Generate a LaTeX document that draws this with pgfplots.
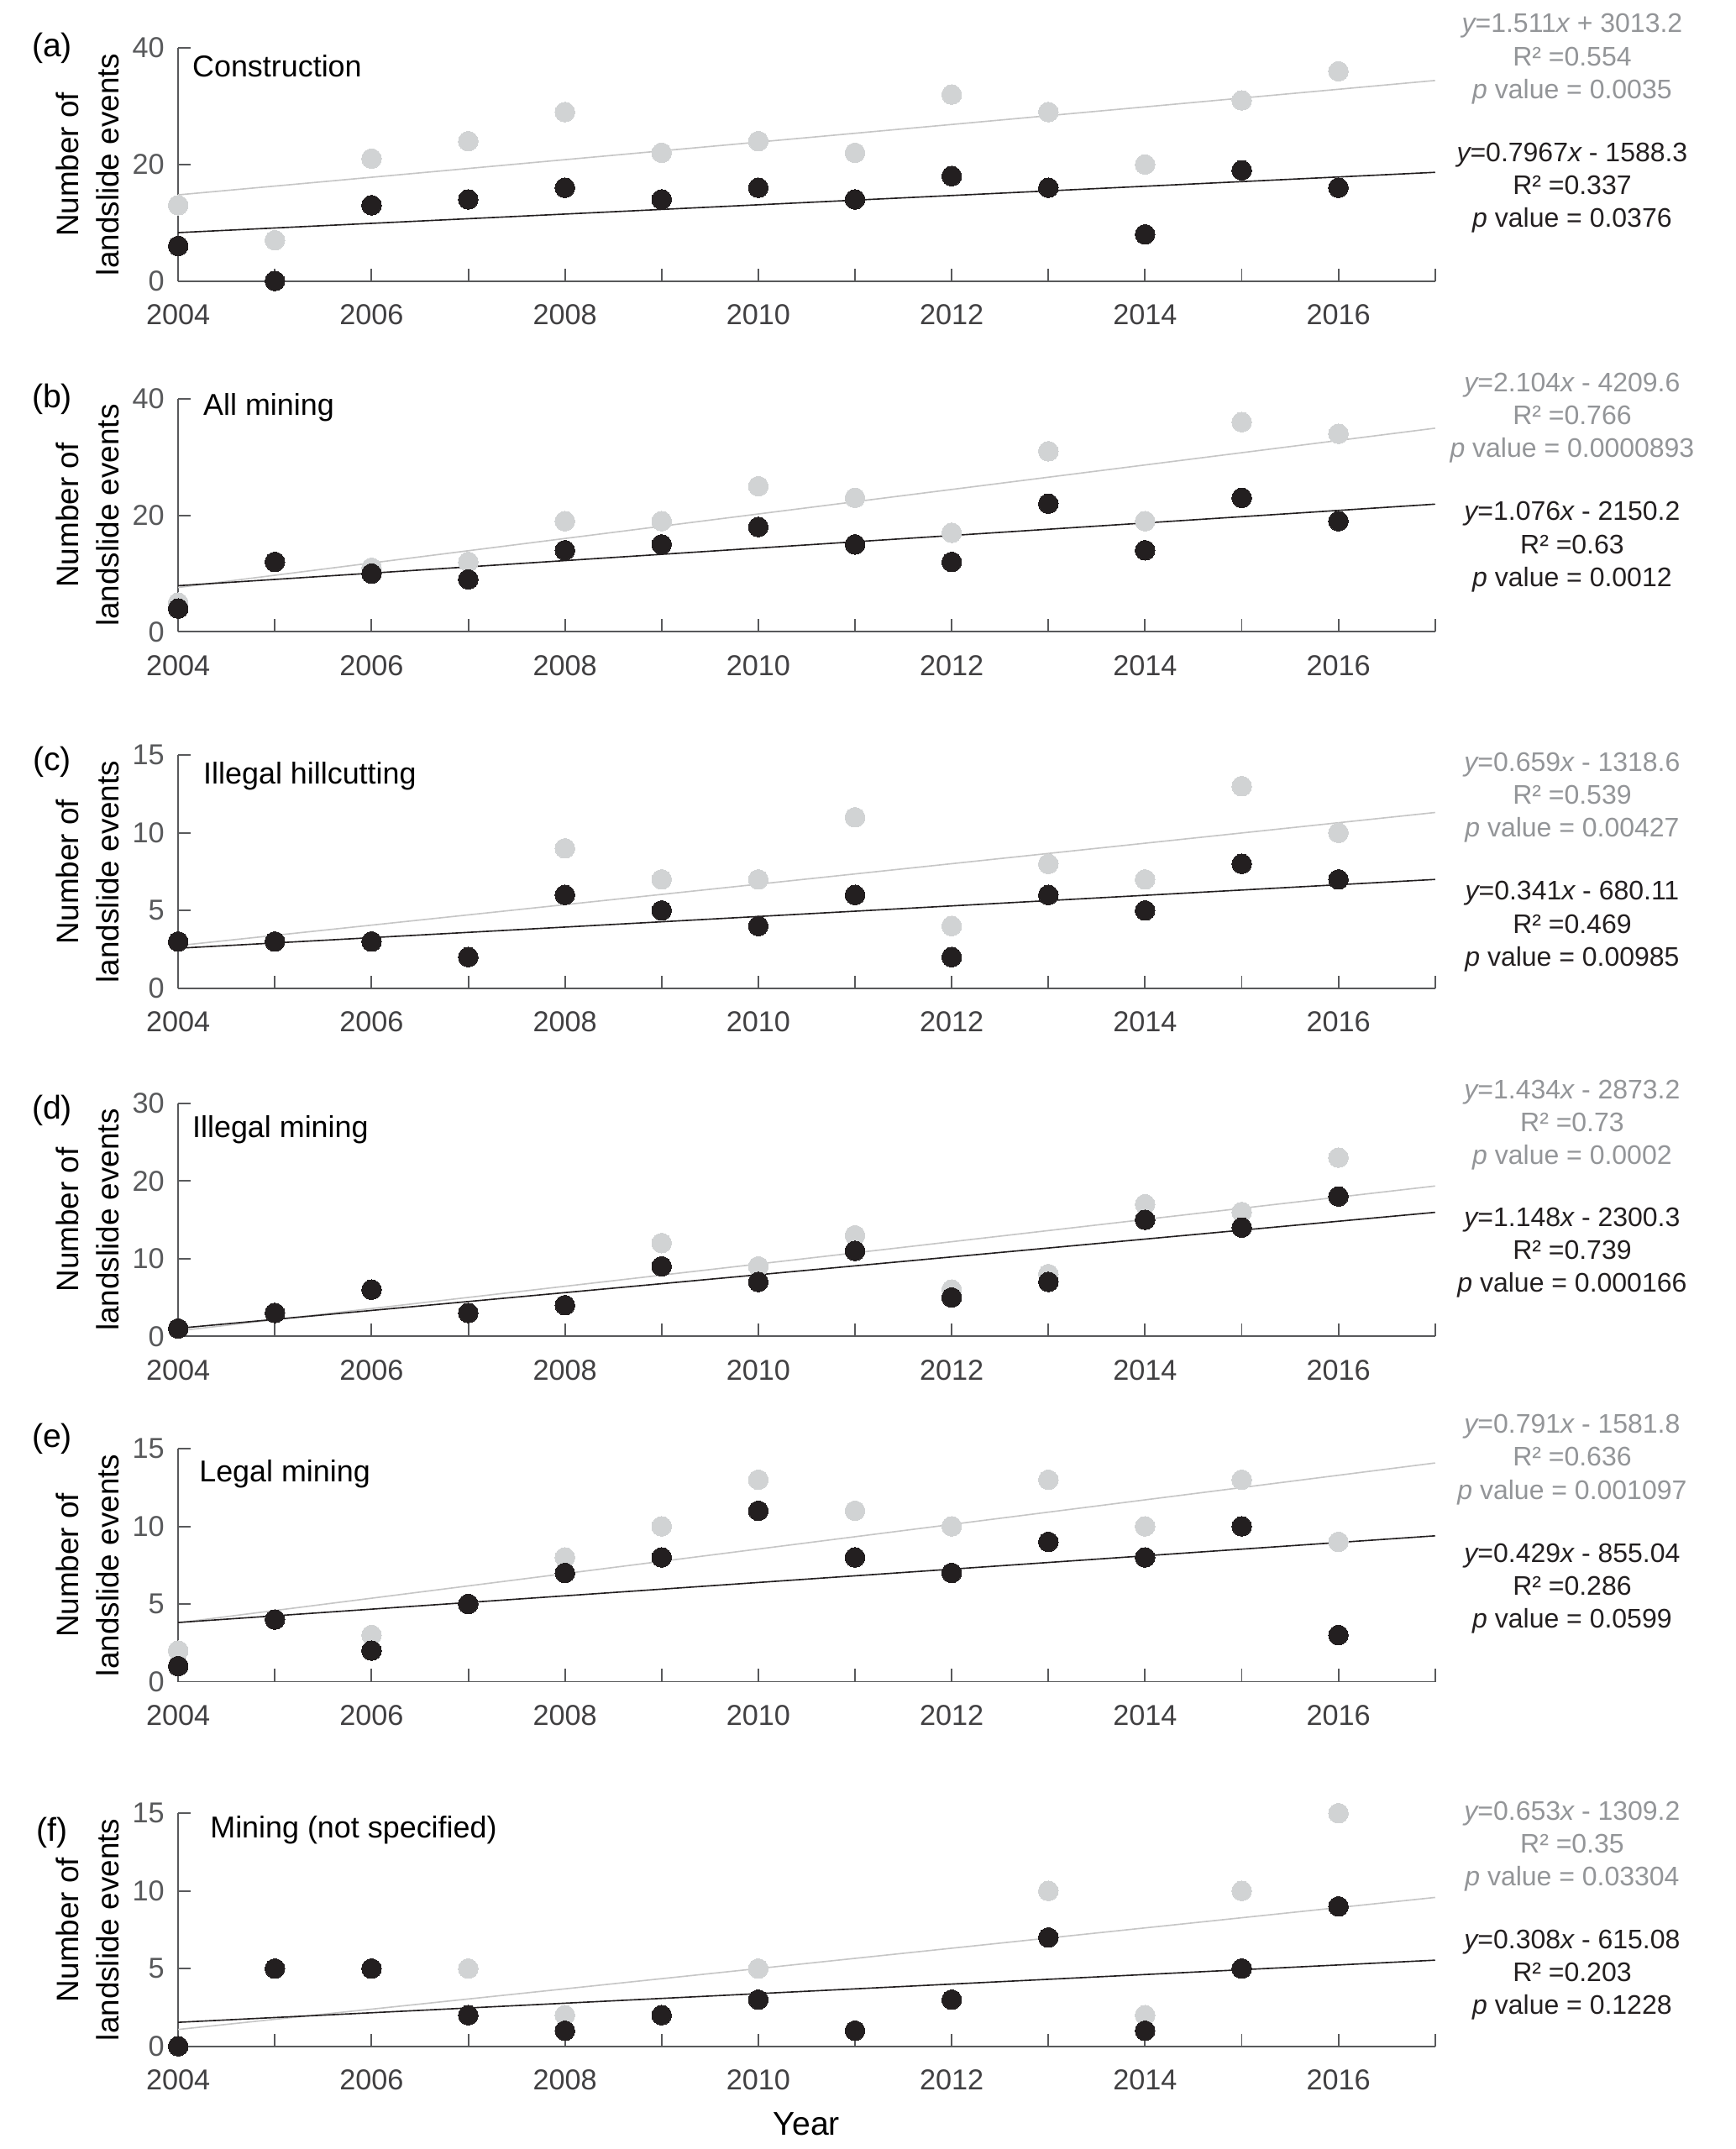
\documentclass[border=0pt]{standalone}
\usepackage{fontspec}
\setmainfont{Liberation Sans}
\usepackage{pgfplots}
\pgfplotsset{compat=1.18}
\usepackage{pgfplotstable}

\definecolor{ptgrey}{HTML}{D1D3D4}
\definecolor{lngrey}{HTML}{C6C6C6}
\definecolor{ptblack}{HTML}{231F20}
\definecolor{axgrey}{HTML}{58595B}
\definecolor{txgrey}{HTML}{939598}
\definecolor{tkgrey}{HTML}{414042}

% year, grey series, black series
\pgfplotstableread{
year grey black
2004 13 6
2005 7 0
2006 21 13
2007 24 14
2008 29 16
2009 22 14
2010 24 16
2011 22 14
2012 32 18
2013 29 16
2014 20 8
2015 31 19
2016 36 16
}\tA
\pgfplotstableread{
year grey black
2004 5 4
2005 12 12
2006 11 10
2007 12 9
2008 19 14
2009 19 15
2010 25 18
2011 23 15
2012 17 12
2013 31 22
2014 19 14
2015 36 23
2016 34 19
}\tB
\pgfplotstableread{
year grey black
2004 3 3
2005 3 3
2006 3 3
2007 2 2
2008 9 6
2009 7 5
2010 7 4
2011 11 6
2012 4 2
2013 8 6
2014 7 5
2015 13 8
2016 10 7
}\tC
\pgfplotstableread{
year grey black
2004 1 1
2005 3 3
2006 6 6
2007 3 3
2008 4 4
2009 12 9
2010 9 7
2011 13 11
2012 6 5
2013 8 7
2014 17 15
2015 16 14
2016 23 18
}\tD
\pgfplotstableread{
year grey black
2004 2 1
2005 4 4
2006 3 2
2007 5 5
2008 8 7
2009 10 8
2010 13 11
2011 11 8
2012 10 7
2013 13 9
2014 10 8
2015 13 10
2016 9 3
}\tE
\pgfplotstableread{
year grey black
2004 0 0
2005 5 5
2006 5 5
2007 5 2
2008 2 1
2009 2 2
2010 5 3
2011 1 1
2012 3 3
2013 10 7
2014 2 1
2015 10 5
2016 15 9
}\tF

\tikzset{
  ann/.style={align=center, anchor=center, inner sep=0pt, font=\fontsize{9.8}{12}\selectfont},
  letter/.style={anchor=center, inner sep=0pt, font=\fontsize{12}{14}\selectfont},
  inset/.style={anchor=base west, inner sep=0pt, font=\fontsize{11}{13}\selectfont},
}
\pgfplotsset{
  panel/.style={
    scale only axis, width=458.5pt, height=85pt, anchor=south west,
    xmin=2004, xmax=2017, ymin=0,
    axis lines=left, axis line style={-, axgrey, line width=0.6pt},
    tick align=inside, major tick length=4.6pt, minor tick length=4.6pt,
    tick style={axgrey, line width=0.6pt},
    xtick={2004,2006,...,2016}, minor xtick={2005,2007,...,2017},
    /pgf/number format/1000 sep={}, /pgf/number format/assume math mode=true,
    xticklabel style={font=\fontsize{10.5}{12}\selectfont, text=tkgrey, yshift=-5pt},
    yticklabel style={font=\fontsize{10.5}{12}\selectfont, text=axgrey, xshift=-1.5pt},
    ylabel={Number of\\landslide events},
    every axis y label/.style={at={(axis description cs:-0.072,0.5)}, rotate=90,
      anchor=center, align=center, font=\fontsize{11.3}{14.5}\selectfont},
    clip=false,
  },
  trendgrey/.style={lngrey, line width=0.5pt, no markers},
  trendblack/.style={ptblack, line width=0.5pt, no markers},
  ptsgrey/.style={only marks, color=ptgrey, mark=*, mark size=3.6pt,
    mark options={draw=ptgrey, fill=ptgrey, line width=0pt}},
  ptsblack/.style={only marks, color=ptblack, mark=*, mark size=3.6pt,
    mark options={draw=ptblack, fill=ptblack, line width=0pt}},
}

\begin{document}
\begin{tikzpicture}
\useasboundingbox (0pt,0pt) rectangle (633pt,-784pt);

% (a)
\begin{axis}[panel, at={(65pt,-102.5pt)}, ymax=40, ytick={0,20,40}]
\addplot[trendgrey] coordinates {(2004,14.78) (2017,34.42)};
\addplot[trendblack] coordinates {(2004,8.30) (2017,18.65)};
\addplot[ptsgrey] table[x=year, y=grey] {\tA};
\addplot[ptsblack] table[x=year, y=black] {\tA};
\node[inset, xshift=5pt, yshift=-10.5pt] at (rel axis cs:0,1) {Construction};
\end{axis}

% (b)
\begin{axis}[panel, at={(65pt,-230.5pt)}, ymax=40, ytick={0,20,40}]
\addplot[trendgrey] coordinates {(2004,7.61) (2017,34.96)};
\addplot[trendblack] coordinates {(2004,7.92) (2017,21.92)};
\addplot[ptsgrey] table[x=year, y=grey] {\tB};
\addplot[ptsblack] table[x=year, y=black] {\tB};
\node[inset, xshift=9pt, yshift=-6pt] at (rel axis cs:0,1) {All mining};
\end{axis}

% (c)
\begin{axis}[panel, at={(65pt,-360.5pt)}, ymax=15, ytick={0,5,10,15}]
\addplot[trendgrey] coordinates {(2004,2.74) (2017,11.31)};
\addplot[trendblack] coordinates {(2004,2.57) (2017,7.00)};
\addplot[ptsgrey] table[x=year, y=grey] {\tC};
\addplot[ptsblack] table[x=year, y=black] {\tC};
\node[inset, xshift=9pt, yshift=-10.5pt] at (rel axis cs:0,1) {Illegal hillcutting};
\end{axis}

% (d)
\begin{axis}[panel, at={(65pt,-487.5pt)}, ymax=30, ytick={0,10,20,30}]
\addplot[trendgrey] coordinates {(2004,0.70) (2017,19.35)};
\addplot[trendblack] coordinates {(2004,1.03) (2017,15.96)};
\addplot[ptsgrey] table[x=year, y=grey] {\tD};
\addplot[ptsblack] table[x=year, y=black] {\tD};
\node[inset, xshift=5pt, yshift=-12.5pt] at (rel axis cs:0,1) {Illegal mining};
\end{axis}

% (e)
\begin{axis}[panel, at={(65pt,-613.5pt)}, ymax=15, ytick={0,5,10,15}]
\addplot[trendgrey] coordinates {(2004,3.79) (2017,14.08)};
\addplot[trendblack] coordinates {(2004,3.81) (2017,9.39)};
\addplot[ptsgrey] table[x=year, y=grey] {\tE};
\addplot[ptsblack] table[x=year, y=black] {\tE};
\node[inset, xshift=7.5pt, yshift=-12pt] at (rel axis cs:0,1) {Legal mining};
\end{axis}

% (f)
\begin{axis}[panel, at={(65pt,-746.5pt)}, ymax=15, ytick={0,5,10,15},
  xlabel={Year},
  every axis x label/.style={at={(axis description cs:0.5,0)}, anchor=center,
    yshift=-28.5pt, font=\fontsize{12}{14}\selectfont}]
\addplot[trendgrey] coordinates {(2004,1.08) (2017,9.58)};
\addplot[trendblack] coordinates {(2004,1.54) (2017,5.54)};
\addplot[ptsgrey] table[x=year, y=grey] {\tF};
\addplot[ptsblack] table[x=year, y=black] {\tF};
\node[inset, xshift=11.5pt, yshift=-9pt] at (rel axis cs:0,1) {Mining (not specified)};
\end{axis}

% panel letters
\node[letter] at (19pt,-17.5pt) {(a)};
\node[letter] at (19pt,-145.5pt) {(b)};
\node[letter] at (19pt,-278pt) {(c)};
\node[letter] at (19pt,-405pt) {(d)};
\node[letter] at (19pt,-525pt) {(e)};
\node[letter] at (19pt,-668.5pt) {(f)};

% regression annotations
\node[ann, text=txgrey] at (573.5pt,-21.5pt) {{\itshape y}=1.511{\itshape x} + 3013.2\\R² =0.554\\{\itshape p} value = 0.0035};
\node[ann, text=ptblack] at (573.5pt,-68.5pt) {{\itshape y}=0.7967{\itshape x} - 1588.3\\R² =0.337\\{\itshape p} value = 0.0376};

\node[ann, text=txgrey] at (573.5pt,-152.5pt) {{\itshape y}=2.104{\itshape x} - 4209.6\\R² =0.766\\{\itshape p} value = 0.0000893};
\node[ann, text=ptblack] at (573.5pt,-199.5pt) {{\itshape y}=1.076{\itshape x} - 2150.2\\R² =0.63\\{\itshape p} value = 0.0012};

\node[ann, text=txgrey] at (573.5pt,-291pt) {{\itshape y}=0.659{\itshape x} - 1318.6\\R² =0.539\\{\itshape p} value = 0.00427};
\node[ann, text=ptblack] at (573.5pt,-338pt) {{\itshape y}=0.341{\itshape x} - 680.11\\R² =0.469\\{\itshape p} value = 0.00985};

\node[ann, text=txgrey] at (573.5pt,-410.5pt) {{\itshape y}=1.434{\itshape x} - 2873.2\\R² =0.73\\{\itshape p} value = 0.0002};
\node[ann, text=ptblack] at (573.5pt,-457pt) {{\itshape y}=1.148{\itshape x} - 2300.3\\R² =0.739\\{\itshape p} value = 0.000166};

\node[ann, text=txgrey] at (573.5pt,-532.5pt) {{\itshape y}=0.791{\itshape x} - 1581.8\\R² =0.636\\{\itshape p} value = 0.001097};
\node[ann, text=ptblack] at (573.5pt,-579.5pt) {{\itshape y}=0.429{\itshape x} - 855.04\\R² =0.286\\{\itshape p} value = 0.0599};

\node[ann, text=txgrey] at (573.5pt,-673.5pt) {{\itshape y}=0.653{\itshape x} - 1309.2\\R² =0.35\\{\itshape p} value = 0.03304};
\node[ann, text=ptblack] at (573.5pt,-720.5pt) {{\itshape y}=0.308{\itshape x} - 615.08\\R² =0.203\\{\itshape p} value = 0.1228};
\end{tikzpicture}
\end{document}
